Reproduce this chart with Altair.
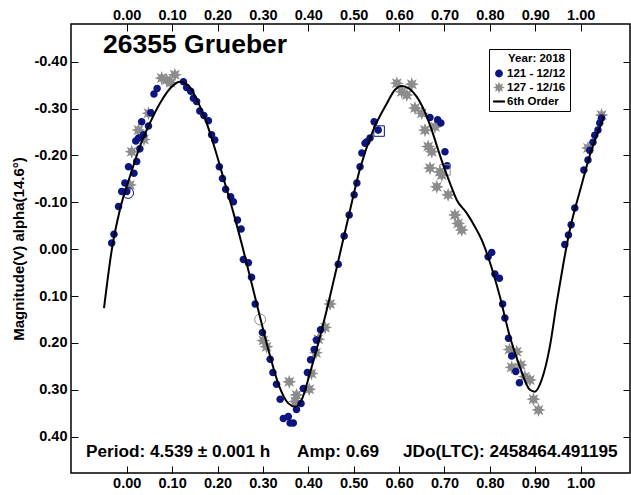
import math
import altair as alt
import pandas as pd

# ---------------- data ----------------
series_names = ["121 - 12/12", "127 - 12/16", "6th Order"]

s121_x = [-0.033, -0.028, -0.018, -0.011, 0.000, -0.004, 0.016, 0.004, 0.022, 0.029,
          0.020, 0.026, 0.037, 0.033, 0.048, 0.053, 0.060, 0.067, 0.125, 0.132,
          0.141, 0.147, 0.154, 0.161, 0.170, 0.180, 0.187, 0.194, 0.204, 0.211,
          0.218, 0.229, 0.235, 0.244, 0.252,
          0.257, 0.268, 0.275, 0.283, 0.299, 0.316, 0.322, 0.330, 0.338, 0.345,
          0.356, 0.360, 0.367, 0.374, 0.384, 0.389, 0.398, 0.405, 0.413, 0.418,
          0.427, 0.466,
          0.479, 0.490, 0.501, 0.507,
          0.514, 0.518, 0.525, 0.529, 0.536, 0.545, 0.554, 0.668, 0.685, 0.692,
          0.701, 0.706, 0.796, 0.804,
          0.811, 0.821, 0.828, 0.833, 0.841, 0.848, 0.857, 0.865, 0.965, 0.973,
          0.979, 0.987, 1.007, 1.016, 1.020, 1.027, 1.031, 1.038, 1.042, 1.046]
s121_y = [-0.013, -0.032, -0.091, -0.123, -0.123, -0.141, -0.162, -0.176, -0.187, -0.214,
          -0.231, -0.237, -0.244, -0.272, -0.263, -0.291, -0.331, -0.343, -0.357, -0.345,
          -0.337, -0.322, -0.315, -0.295, -0.285, -0.274, -0.244, -0.233, -0.176, -0.151,
          -0.128, -0.112, -0.101, -0.062, -0.043,
          0.022, 0.029, 0.060, 0.117, 0.178, 0.235, 0.263, 0.288, 0.320, 0.361,
          0.357, 0.371, 0.371, 0.342, 0.329, 0.297, 0.263, 0.236, 0.214, 0.194,
          0.172, 0.032,
          -0.028, -0.073, -0.116, -0.141,
          -0.176, -0.205, -0.226, -0.229, -0.237, -0.272, -0.254, -0.281, -0.276, -0.269,
          -0.208, -0.178, 0.016, 0.007,
          0.053, 0.062, 0.117, 0.147, 0.190, 0.228, 0.261, 0.285, -0.010, -0.030,
          -0.052, -0.088, -0.169, -0.190, -0.211, -0.228, -0.243, -0.254, -0.269, -0.280]

s127_x = [0.007, 0.011, 0.026, 0.038, 0.048, 0.077, 0.088, 0.106, 0.097,
          0.301, 0.308, 0.358, 0.374, 0.371, 0.402, 0.407, 0.417, 0.422, 0.437, 0.448,
          0.595, 0.628, 0.606, 0.617, 0.635, 0.650, 0.657, 0.679, 0.664, 0.672,
          0.668, 0.690, 0.694, 0.683, 0.708, 0.723, 0.730, 0.738,
          0.843, 0.859, 0.848, 0.868, 0.877, 0.888, 0.896, 0.907,
          1.016, 1.046]
s127_y = [-0.137, -0.208, -0.254, -0.234, -0.290, -0.365, -0.361, -0.372, -0.355,
          0.195, 0.208, 0.283, 0.311, 0.325, 0.299, 0.265, 0.221, 0.192, 0.167, 0.117,
          -0.354, -0.352, -0.336, -0.329, -0.301, -0.290, -0.254, -0.261, -0.219, -0.208,
          -0.173, -0.165, -0.158, -0.133, -0.116, -0.073, -0.055, -0.041,
          0.214, 0.219, 0.252, 0.247, 0.272, 0.279, 0.320, 0.343,
          -0.216, -0.286]

fit_x = [-0.050, -0.033, -0.015, 0.007, 0.029, 0.051, 0.073, 0.103, 0.117, 0.135,
         0.155, 0.175, 0.195, 0.215, 0.235, 0.255, 0.275, 0.295, 0.315, 0.335,
         0.356, 0.371, 0.385, 0.404, 0.422, 0.441, 0.466, 0.490, 0.514, 0.543,
         0.573, 0.591, 0.606, 0.639, 0.661, 0.672, 0.686, 0.701, 0.712, 0.727,
         0.749, 0.767, 0.785, 0.798, 0.822, 0.844, 0.866, 0.888, 0.899, 0.914,
         0.932, 0.947, 0.962, 0.976, 1.000, 1.020, 1.040, 1.051]
fit_y = [0.126, 0.002, -0.084, -0.155, -0.219, -0.269, -0.311, -0.350, -0.357, -0.350,
         -0.318, -0.272, -0.212, -0.145, -0.078, -0.005, 0.072, 0.150, 0.225, 0.290,
         0.329, 0.336, 0.322, 0.263, 0.200, 0.128, 0.025, -0.075, -0.172, -0.254,
         -0.311, -0.340, -0.348, -0.325, -0.283, -0.254, -0.212, -0.169, -0.141, -0.105,
         -0.077, -0.048, -0.013, 0.022, 0.101, 0.187, 0.251, 0.300, 0.304, 0.279,
         0.208, 0.115, 0.030, -0.041, -0.130, -0.200, -0.255, -0.283]

# open reference markers (first points of sessions)
ring_x = [0.003, 0.294]
ring_y = [-0.120, 0.150]
ring_series = ["121 - 12/12", "127 - 12/16"]
box_x = [0.556, 0.701]
box_y = [-0.252, -0.169]
box_series = ["121 - 12/12", "127 - 12/16"]

x_ticks = [0.0, 0.1, 0.2, 0.3, 0.4, 0.5, 0.6, 0.7, 0.8, 0.9, 1.0]
y_ticks = [-0.4, -0.3, -0.2, -0.1, 0.0, 0.1, 0.2, 0.3, 0.4]

title_text = "26355 Grueber"
stat_texts = ["Period: 4.539 ± 0.001 h", "Amp: 0.69", "JDo(LTC): 2458464.491195"]
legend_title = "Year: 2018"
y_title = "Magnitude(V) alpha(14.6°)"

# ---------------- styling ----------------
FONT = "Liberation Sans"
NAVY = "#0c1480"
GRAY = "#8c8c8c"
W, H = 559, 449


def star_path(n=8, ro=1.0, ri=0.5):
    pts = []
    for k in range(2 * n):
        r = ro if k % 2 == 0 else ri
        a = math.pi * k / n
        pts.append((r * math.sin(a), -r * math.cos(a)))
    return "M" + "L".join(f"{px:.3f},{py:.3f}" for px, py in pts) + "Z"


dot_path = "M-0.66,0A0.66,0.66 0 1,0 0.66,0A0.66,0.66 0 1,0 -0.66,0Z"
line_path = "M-1,-0.18L1,-0.18L1,0.18L-1,0.18Z"

x_scale = alt.Scale(domain=[-0.1227, 1.1086], nice=False, zero=False)
y_scale = alt.Scale(domain=[-0.4804, 0.4775], nice=False, zero=False, reverse=True)
color_scale = alt.Scale(domain=series_names, range=[NAVY, GRAY, "black"])
shape_scale = alt.Scale(domain=series_names, range=[dot_path, star_path(), line_path])

common_axis = dict(domain=False, grid=False, ticks=True, tickSize=7, offset=-7,
                   tickColor="black", tickWidth=1, labelFont=FONT, labelFontSize=14.5,
                   labelFontWeight="bold", labelColor="black")

x_bottom = alt.Axis(orient="bottom", title=None, values=x_ticks, format=".2f",
                    labelPadding=3, **common_axis)
x_top = alt.Axis(orient="top", title=None, values=x_ticks, format=".2f",
                 labelPadding=2, **common_axis)
y_left = alt.Axis(orient="left", title=y_title, values=y_ticks,
                  labelExpr="replace(format(datum.value, '.2f'), '\u2212', '-')",
                  labelPadding=4, titleFont=FONT, titleFontSize=15,
                  titleFontWeight="bold", titleColor="black", titlePadding=7,
                  **common_axis)
y_right = alt.Axis(orient="right", title=None, values=y_ticks, labels=False,
                   **common_axis)

legend = alt.Legend(title=legend_title, orient="none", legendX=418, legendY=25,
                    fillColor="white", strokeColor="black", padding=4,
                    labelFont=FONT, labelFontSize=11.5, labelFontWeight="bold",
                    labelColor="black", titleFont=FONT, titleFontSize=11.5,
                    titleFontWeight="bold", titleColor="black", titleAnchor="end",
                    titleAlign="right", titlePadding=3, symbolSize=140,
                    rowPadding=2, labelOffset=2, symbolStrokeWidth=0)

df121 = pd.DataFrame({"x": s121_x, "y": s121_y, "series": series_names[0]})
df127 = pd.DataFrame({"x": s127_x, "y": s127_y, "series": series_names[1]})
dffit = pd.DataFrame({"x": fit_x, "y": fit_y})
dfring = pd.DataFrame({"x": ring_x, "y": ring_y, "series": ring_series})
dfbox = pd.DataFrame({"x": box_x, "y": box_y, "series": box_series})

gray = alt.Chart(df127).mark_point(filled=True, size=200, opacity=1).encode(
    x=alt.X("x:Q", scale=x_scale, axis=x_top),
    y=alt.Y("y:Q", scale=y_scale, axis=y_right),
    color=alt.Color("series:N", scale=color_scale, legend=legend),
    shape=alt.Shape("series:N", scale=shape_scale, legend=legend),
)

navy = alt.Chart(df121).mark_point(filled=True, size=130, opacity=1).encode(
    x=alt.X("x:Q", scale=x_scale, axis=None),
    y=alt.Y("y:Q", scale=y_scale, axis=None),
    color=alt.Color("series:N", scale=color_scale, legend=legend),
    shape=alt.Shape("series:N", scale=shape_scale, legend=legend),
)

rings = alt.Chart(dfring).mark_point(shape="circle", filled=False, size=120,
                                     strokeWidth=1, opacity=1).encode(
    x=alt.X("x:Q", scale=x_scale, axis=None),
    y=alt.Y("y:Q", scale=y_scale, axis=None),
    color=alt.Color("series:N", scale=color_scale, legend=None),
)

boxes = alt.Chart(dfbox).mark_point(shape="square", filled=False, size=110,
                                    strokeWidth=1, opacity=1).encode(
    x=alt.X("x:Q", scale=x_scale, axis=None),
    y=alt.Y("y:Q", scale=y_scale, axis=None),
    color=alt.Color("series:N", scale=color_scale, legend=None),
)

fit = alt.Chart(dffit).mark_line(color="black", strokeWidth=2,
                                 interpolate="monotone").encode(
    x=alt.X("x:Q", scale=x_scale, axis=x_bottom),
    y=alt.Y("y:Q", scale=y_scale, axis=y_left),
)

title_layer = alt.Chart(pd.DataFrame({"t": [title_text]})).mark_text(
    align="left", baseline="alphabetic", font=FONT, fontSize=26.5,
    fontWeight="bold", color="black").encode(
    x=alt.value(32), y=alt.value(29), text="t:N")

stat_layers = []
for txt, px in zip(stat_texts, [15, 226, 332]):
    stat_layers.append(
        alt.Chart(pd.DataFrame({"t": [txt]})).mark_text(
            align="left", baseline="alphabetic", font=FONT, fontSize=17.2,
            fontWeight="bold", color="black").encode(
            x=alt.value(px), y=alt.value(433), text="t:N")
    )

chart = alt.layer(gray, navy, rings, boxes, fit, title_layer, *stat_layers).resolve_axis(
    x="independent", y="independent"
).properties(
    width=W, height=H,
    autosize=alt.AutoSizeParams(type="none"),
    padding={"left": 71, "top": 24, "right": 1, "bottom": 22},
    background="white",
).configure_view(stroke="black", strokeWidth=1.5)

chart.save("out.html", embed_options={"renderer": "svg", "actions": False})
